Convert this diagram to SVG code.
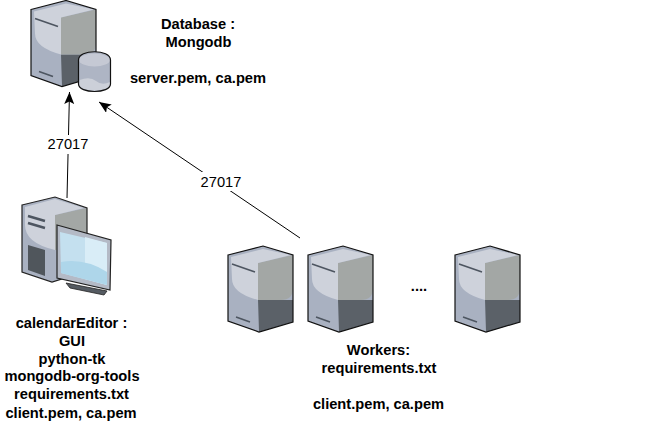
<svg xmlns="http://www.w3.org/2000/svg" width="649" height="439" viewBox="0 0 649 439">
<style>
text{font-family:"Liberation Sans",Arial,sans-serif;font-size:14.67px;fill:#000}
.b{font-weight:bold;text-anchor:middle}
.e{text-anchor:middle}
.c{stroke:#000;stroke-width:1;fill:none;marker-end:url(#a)}
</style>
<defs>
<marker id="a" markerUnits="userSpaceOnUse" markerWidth="14" markerHeight="12" refX="12" refY="5" orient="auto"><path d="M0 0L12 5L0 10L2.500 5Z" fill="#000"/></marker>
<symbol id="srv" width="68" height="90" viewBox="0 0 68 90" overflow="visible">
<path d="M0 9L35 0L65 9V76L31 86L0 75Z" fill="#a9b1c1"/>
<path d="M30 54H65V76L31 86Z" fill="#5b6168"/>
<path d="M30 17L65 9V42Q65 54 53 54H30Z" fill="#a3a7a5"/>
<path d="M3 11L35 3L63 9L30 17V54Q4 47 4 33Z" fill="#ced2db"/>
<path d="M0 9L35 0L65 9V76L31 86L0 75Z" fill="none" stroke="#111" stroke-width="1.200"/>
<path d="M4 18L27 26" stroke="#4d5560" stroke-width="1.600"/>
<path d="M8 71L22 76" stroke="#4d5560" stroke-width="1.600"/>
</symbol>
</defs>
<g id="connectors">
<path class="c" d="M67 198L69.500 92"/>
<path class="c" d="M300 238L99 102"/>
</g>
<g id="database">
<use href="#srv" x="31" y="0.500" width="68" height="90"/>
<path d="M78.500 60C78.500 49 110.500 49 110.500 60V84C110.500 94 78.500 94 78.500 84Z" fill="#aeb5c4"/>
<path d="M79.500 80Q90 76 96 81T110 82V84C110 93 79 93 79 84Z" fill="#ccd0d9"/>
<ellipse cx="94.500" cy="60" rx="15.500" ry="6.500" fill="#c5c9d4"/>
<path d="M78.500 60C78.500 49 110.500 49 110.500 60V84C110.500 94 78.500 94 78.500 84Z" fill="none" stroke="#111" stroke-width="1.200"/>
<text class="b" x="198" y="28.500">Database :</text>
<text class="b" x="198.500" y="46.500">Mongodb</text>
<text class="b" x="198" y="82.500">server.pem, ca.pem</text>
</g>
<g id="editor">
<path d="M22 205L55 197L87 208V271L52 282L22 272Z" fill="#a9b1c1"/>
<path d="M55 215L87 208V236Q87 248 75 248L55 250Z" fill="#a3a7a5"/>
<path d="M25 207L55 199L84 208L55 215V250Q25 243 25 225Z" fill="#ced2db"/>
<path d="M22 205L55 197L87 208V271L52 282L22 272Z" fill="none" stroke="#222" stroke-width="1.200"/>
<path d="M28 216L45 221M28 223L45 228" stroke="#4d5560" stroke-width="2.500"/>
<path d="M28 245L45 250V276L28 270Z" fill="#50565c"/>
<path d="M66 283L107 291L104 295L70 288Z" fill="#555b62" stroke="#222" stroke-width=".8"/>
<path d="M57 225L111 240L110 290L57 278Z" fill="#b4bac6" stroke="#222" stroke-width="1.200"/>
<path d="M60 232L107 243V285L61 273Z" fill="#c4e0ef"/>
<path d="M85 237L107 243V285L85 279Z" fill="#d9edf7"/>
<path d="M61 262Q85 258 107 272V285L61 273Z" fill="#aed6ea"/>
<text class="b" x="71.500" y="328">calendarEditor :</text>
<text class="b" x="72" y="345.500">GUI</text>
<text class="b" x="72" y="363.500">python-tk</text>
<text class="b" x="72" y="381">mongodb-org-tools</text>
<text class="b" x="71.500" y="399">requirements.txt</text>
<text class="b" x="71" y="417.500">client.pem, ca.pem</text>
</g>
<g id="worker1"><use href="#srv" x="228" y="246" width="68" height="90"/></g>
<g id="worker2"><use href="#srv" x="308" y="246" width="68" height="90"/></g>
<g id="worker3"><use href="#srv" x="455" y="246" width="68" height="90"/></g>
<g id="workers-label">
<text class="b" x="419" y="291">....</text>
<text class="b" x="378.500" y="354.500">Workers:</text>
<text class="b" x="379" y="373">requirements.txt</text>
<text class="b" x="378.500" y="409">client.pem, ca.pem</text>
</g>
<g id="port-labels">
<rect x="47" y="135" width="43" height="19" fill="#fff"/>
<text class="e" x="68" y="149">27017</text>
<rect x="200" y="172" width="42" height="19" fill="#fff"/>
<text class="e" x="221" y="187">27017</text>
</g>
</svg>
